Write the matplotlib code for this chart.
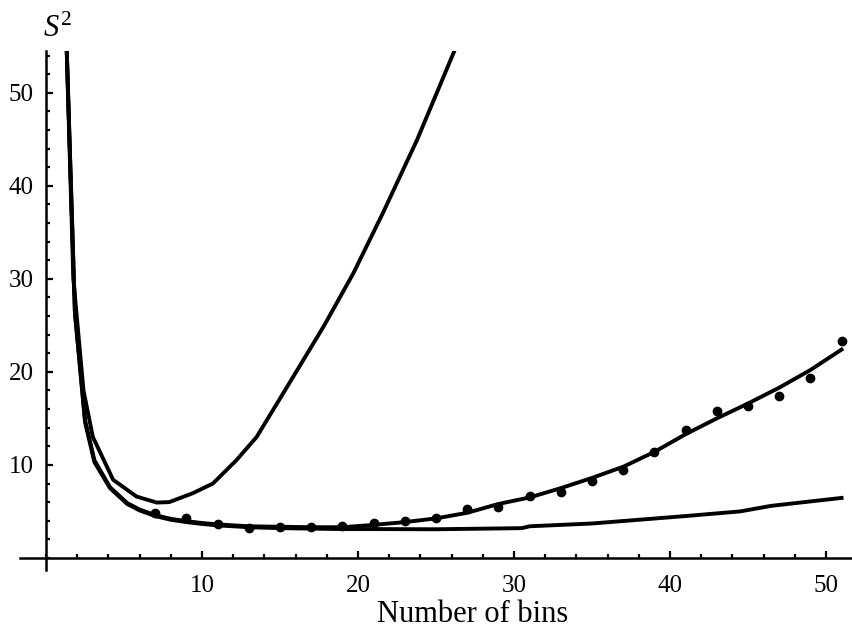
import matplotlib
matplotlib.use("Agg")
import matplotlib.pyplot as plt
from matplotlib.ticker import MultipleLocator

plt.rcParams["font.family"] = "Liberation Serif"
plt.rcParams["mathtext.fontset"] = "custom"
plt.rcParams["mathtext.rm"] = "Liberation Serif"
plt.rcParams["mathtext.it"] = "Liberation Serif:italic"

# curve with the early minimum (steep rise)
a_x = [1.3, 1.75, 2.4, 3.0, 4.3, 5.8, 7.1, 7.9, 9.4, 10.7, 12.2, 13.5, 15.6, 17.8, 19.7, 21.6, 23.8, 26.2]
a_y = [56, 30, 18, 13, 8.4, 6.6, 5.95, 6.0, 6.95, 8.0, 10.5, 13.0, 18.8, 24.9, 30.6, 37.1, 45.0, 54.6]

# curve following the dots
b_x = [1.3, 1.85, 2.5, 3.1, 4.1, 5.2, 6, 7, 8, 9, 10, 11, 13, 15, 17, 19, 21, 23, 25, 27, 29,
       31, 33, 35, 37, 39, 41, 43, 45, 47, 49, 51]
b_y = [56, 26.5, 14.8, 10.5, 7.6, 5.9, 5.2, 4.6, 4.2, 3.95, 3.75, 3.6, 3.4, 3.35, 3.3, 3.3, 3.55,
       3.85, 4.25, 4.85, 5.8, 6.5, 7.5, 8.6, 9.8, 11.4, 13.3, 15.0, 16.6, 18.3, 20.2, 22.4]

# lowest curve
c_x = [1.3, 1.85, 2.5, 3.1, 4.1, 5.2, 6, 7, 8, 9, 10, 11, 13, 15, 17, 19, 21, 25, 30.5, 31,
       35, 38, 41, 44.5, 46.5, 51]
c_y = [56, 26.3, 14.6, 10.3, 7.5, 5.8, 5.1, 4.5, 4.1, 3.85, 3.65, 3.5, 3.3, 3.2, 3.15, 3.1,
       3.1, 3.08, 3.2, 3.4, 3.7, 4.1, 4.5, 5.0, 5.6, 6.45]

# measured points
dot_x = [7, 9, 11, 13, 15, 17, 19, 21, 23, 25, 27, 29, 31, 33, 35, 37, 39, 41, 43, 45, 47, 49, 51]
dot_y = [4.8, 4.3, 3.6, 3.26, 3.37, 3.37, 3.44, 3.7, 3.98, 4.27, 5.3, 5.5, 6.7, 7.1, 8.3, 9.4,
         11.4, 13.8, 15.8, 16.3, 17.4, 19.3, 23.3]

fig = plt.figure(figsize=(8.53, 6.32), dpi=100)
ax = fig.add_axes([0.0229, 0.0981, 0.9765, 0.8212])

lw = 2.8
ax.plot(a_x, a_y, color="black", lw=lw, solid_joinstyle="round")
ax.plot(b_x, b_y, color="black", lw=lw, solid_joinstyle="round")
ax.plot(c_x, c_y, color="black", lw=lw, solid_joinstyle="round")
ax.plot(dot_x, dot_y, "o", color="black", ms=6)

ax.set_xlim(-1.7, 51.7)
ax.set_ylim(-1.3, 54.5)

ax.spines["left"].set_position(("data", 0))
ax.spines["bottom"].set_position(("data", 0))
ax.spines["top"].set_visible(False)
ax.spines["right"].set_visible(False)
ax.spines["left"].set_linewidth(1.8)
ax.spines["bottom"].set_linewidth(1.8)

ax.set_xticks([10, 20, 30, 40, 50])
ax.set_yticks([10, 20, 30, 40, 50])
ax.xaxis.set_minor_locator(MultipleLocator(2))
ax.yaxis.set_minor_locator(MultipleLocator(2))
ax.tick_params(which="major", direction="in", length=5, width=1.6, labelsize=18)
ax.tick_params(which="minor", direction="in", length=3, width=1.6)
ax.tick_params(axis="x", which="major", pad=12)
ax.tick_params(axis="y", which="major", pad=9)

fig.text(473 / 853, 1 - 622 / 632, "Number of bins", fontsize=22, ha="center", va="baseline")
fig.text(43 / 853, 1 - 37 / 632, r"$S^2$", fontsize=22, ha="left", va="baseline")

fig.savefig("out.png", dpi=100)
